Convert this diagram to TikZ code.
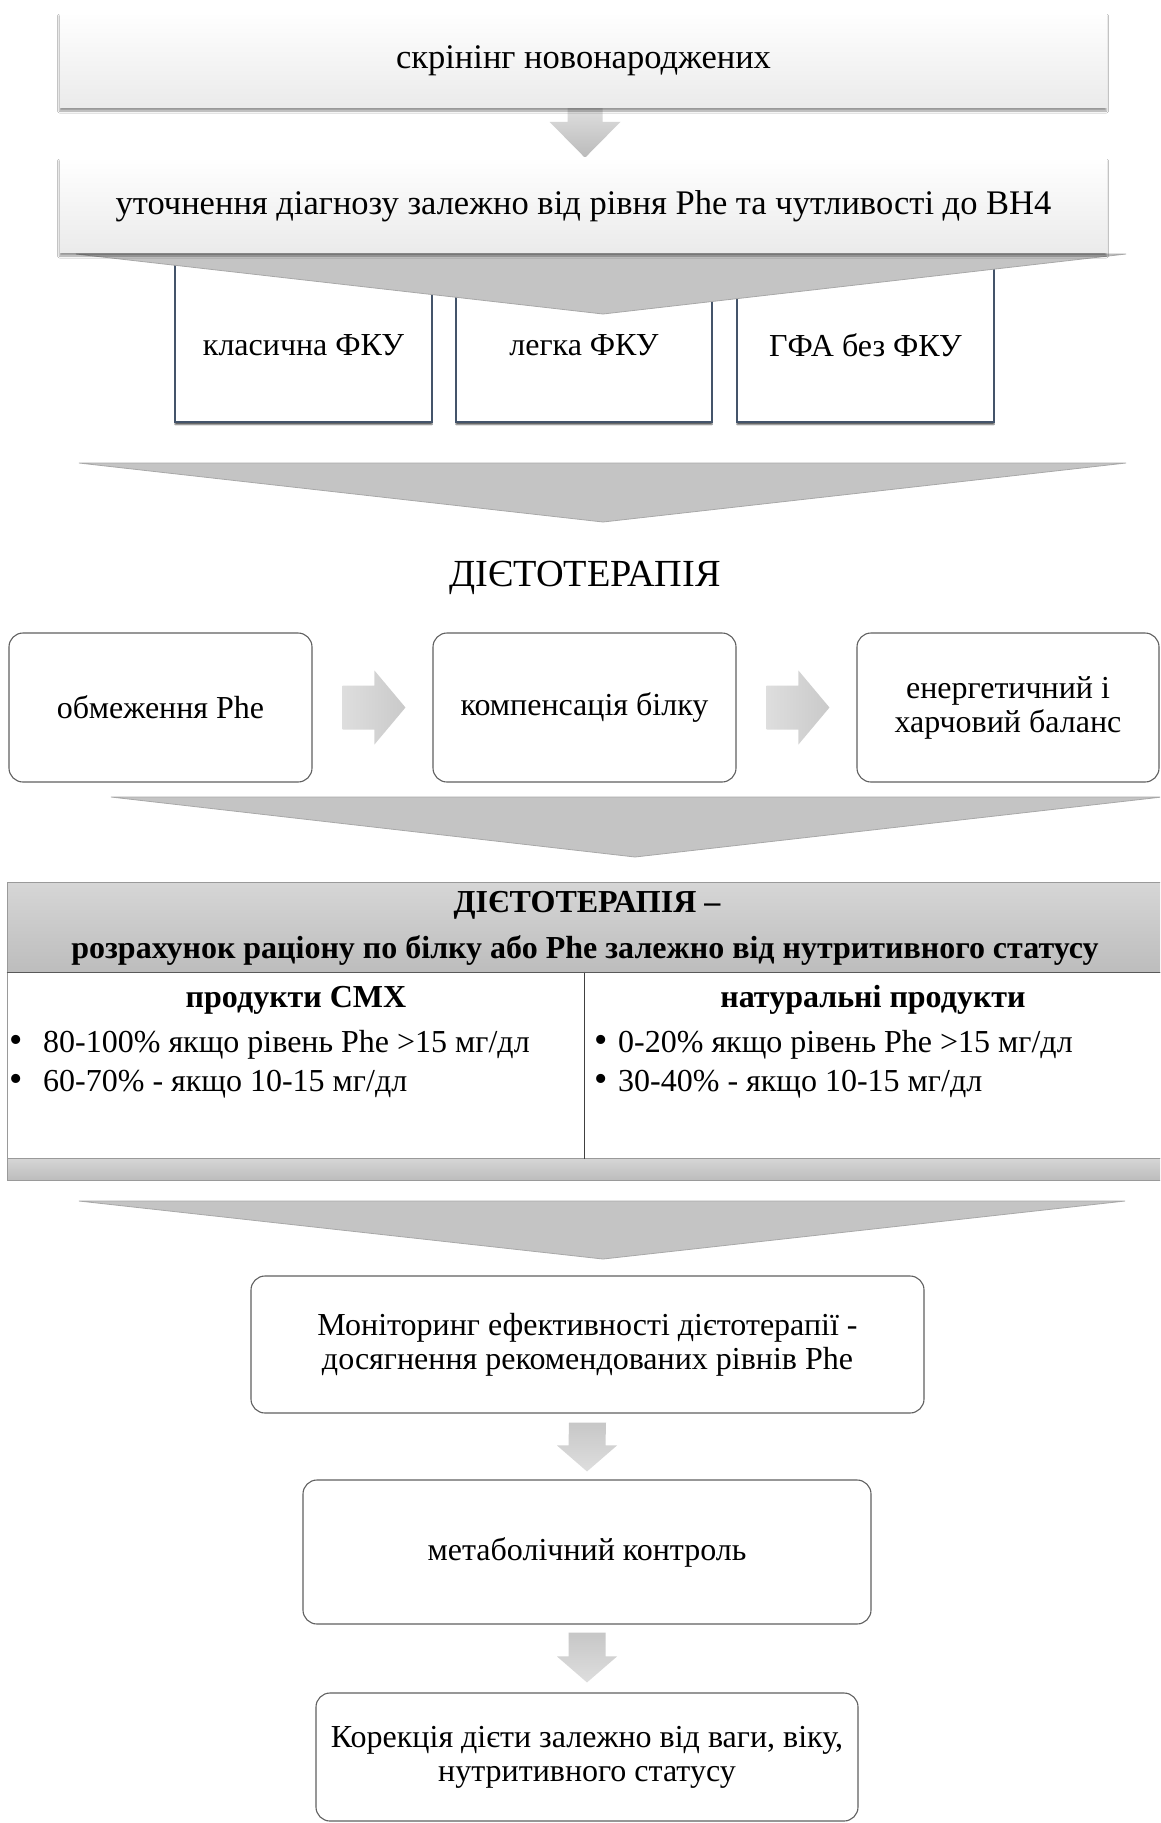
\documentclass[tikz,border=0pt]{standalone}
\usepackage{fontspec}
\setmainfont{Liberation Serif}
\usetikzlibrary{calc,shadows.blur}
\definecolor{dk}{HTML}{44546A}
\definecolor{chev}{HTML}{C4C4C4}
\definecolor{chevl}{HTML}{A8A8A8}
\definecolor{rb}{HTML}{606060}
\definecolor{tline}{HTML}{9A9A9A}
\newcommand\darrow[6]{%
  \path[#6] ($(#1)+(-#3,0)$) -- ($(#1)+(#3,0)$) -- ($(#2)+(#3,-#5)$) -- ($(#2)+(#4,-#5)$) -- (#2)
    -- ($(#2)+(-#4,-#5)$) -- ($(#2)+(-#3,-#5)$) -- cycle;}
\newcommand\rarrow[6]{%
  \path[#6] ($(#1)+(0,-#3)$) -- ($(#2)+(-#5,-#3)$) -- ($(#2)+(-#5,-#4)$) -- (#2)
    -- ($(#2)+(-#5,#4)$) -- ($(#2)+(-#5,#3)$) -- ($(#1)+(0,#3)$) -- cycle;}
\begin{document}
\begin{tikzpicture}[x=1pt,y=-1pt,
  every node/.style={font=\fontsize{32}{34}\selectfont, text=black, inner sep=0pt},
  gbox/.style={rectangle, top color=white, middle color=black!2, bottom color=black!8,
    blur shadow={shadow xshift=-0.5pt, shadow yshift=-4pt, shadow blur radius=2pt, shadow opacity=40}},
  dbox/.style={rectangle, draw=dk, line width=2.5pt, fill=white,
    blur shadow={shadow xshift=0pt, shadow yshift=-2.5pt, shadow blur radius=0.6pt, shadow opacity=60}},
  rbox/.style={rectangle, rounded corners=14pt, draw=rb, line width=1.1pt, fill=white, align=center},
  chevron/.style={fill=chev, draw=chevl, line width=0.8pt},
  bigarr/.style={top color=black!9, bottom color=black!27},
  smarr/.style={top color=black!22, bottom color=black!13},
  rarr/.style={left color=black!13, right color=black!21},
  thd/.style={rectangle, top color=black!16, bottom color=black!26, draw=tline, line width=1pt},
  tcell/.style={rectangle, fill=white, draw=tline, line width=1pt},
  bold/.style={font=\fontsize{32}{34}\selectfont\bfseries},
  topt/.style={font=\fontsize{34.5}{37}\selectfont},
  bl/.style={anchor=west, text height=22pt, text depth=8pt},
  bul/.style={font=\fontsize{38}{34}\selectfont, text height=22pt, text depth=8pt}
]
\clip (0,0) rectangle (1160,1823);
\fill[white] (0,0) rectangle (1160,1823);

% three diagnosis boxes
\node[dbox, minimum width=257pt, minimum height=158pt] (d1) at (303.5,343) {};
\node[dbox, minimum width=256pt, minimum height=158pt] (d2) at (584,343) {};
\node[dbox, minimum width=257pt, minimum height=158pt] (d3) at (865.5,343) {};

% chevron below box 2
\coordinate (c1l) at (76,254); \coordinate (c1r) at (1126,254); \coordinate (c1t) at (603,314);
\path[chevron] (c1l) -- (c1r) -- (c1t) -- cycle;

\node (d1t) at (d1.center) [yshift=-2pt] {класична ФКУ};
\node (d2t) at (d2.center) [yshift=-2pt] {легка ФКУ};
\node (d3t) at (d3.center) [yshift=-2pt] {ГФА без ФКУ};

% top boxes (frames for naming, then arrow, then drawn boxes)
\node[minimum width=1047pt, minimum height=95pt] (b1) at (583.5,59.5) {};
\node[minimum width=1047pt, minimum height=95pt] (b2) at (583.5,204.5) {};
\coordinate (a1t) at ($(b1.south)+(1.5,-12)$);
\coordinate (a1h) at ($(b2.north)+(1.5,1)$);
\darrow{a1t}{a1h}{17.5}{35.5}{36}{bigarr}
\node[gbox, minimum width=1047pt, minimum height=95pt] (b2s) at (b2.center) {};
\node[gbox, minimum width=1047pt, minimum height=95pt] (b1s) at (b1.center) {};
\node[topt] (b1t) at (583.5,61) {скрінінг новонароджених};
\node[topt] (b2t) at (583.5,206) {уточнення діагнозу залежно від рівня Phe та чутливості до BH4};

% chevron 2
\coordinate (c2l) at (79,463); \coordinate (c2r) at (1126,463); \coordinate (c2t) at (603,522);
\path[chevron] (c2l) -- (c2r) -- (c2t) -- cycle;

% heading
\node[font=\fontsize{38.3}{40}\selectfont] (hd) at (585,578) {ДІЄТОТЕРАПІЯ};

% row of rounded boxes
\node[rbox, minimum width=303pt, minimum height=149pt] (r1) at (160.5,707.5) {обмеження Phe};
\node[rbox, minimum width=303pt, minimum height=149pt] (r2) at (584.5,707.5) {компенсація білку};
\node[rbox, minimum width=302pt, minimum height=149pt] (r3) at (1008,707.5) {енергетичний і\\харчовий баланс};
\coordinate (ra1) at ($(r1.east)+(30,0)$); \coordinate (ra1h) at ($(r2.west)+(-27,0)$);
\coordinate (ra2) at ($(r2.east)+(30,0)$); \coordinate (ra2h) at ($(r3.west)+(-27,0)$);
\rarrow{ra1}{ra1h}{22}{37}{31}{rarr}
\rarrow{ra2}{ra2h}{22}{37}{31}{rarr}

% chevron 3
\coordinate (c3l) at (111,797); \coordinate (c3r) at (1162,797); \coordinate (c3t) at (635,857);
\path[chevron] (c3l) -- (c3r) -- (c3t) -- cycle;

% table
\node[thd, minimum width=1156pt, minimum height=90pt] (th) at (585,927) {};
\node[tcell, minimum width=577pt, minimum height=186pt] (tl) at (295.5,1065) {};
\node[tcell, minimum width=579pt, minimum height=186pt] (tr) at (873.5,1065) {};
\node[thd, minimum width=1156pt, minimum height=22pt] (tf) at (585,1169) {};
\draw[black!75, line width=0.9pt] (tl.north east) -- (tl.south east);
\draw[black!65, line width=1.2pt] (th.south west) -- (th.south east);
\node[bold] (th1) at (587,905) {ДІЄТОТЕРАПІЯ –};
\node[bold] (th2) at (585,950) {розрахунок раціону по білку або Phe залежно від нутритивного статусу};
\node[bold] (ch1) at (296,1000) {продукти СМХ};
\node[bold] (ch2) at (873,1000) {натуральні продукти};
\node[bul] (bu1) at (16,1045) {•};
\node[bl] (l1) at (43,1045) {80-100\% якщо рівень Phe >15 мг/дл};
\node[bul] (bu2) at (16,1084) {•};
\node[bl] (l2) at (43,1084) {60-70\%  - якщо 10-15 мг/дл};
\node[bul] (bu3) at (601,1045) {•};
\node[bl] (l3) at (618,1045) {0-20\% якщо рівень Phe >15 мг/дл};
\node[bul] (bu4) at (601,1084) {•};
\node[bl] (l4) at (618,1084) {30-40\%  - якщо 10-15 мг/дл};

% chevron 4
\coordinate (c4l) at (79,1201); \coordinate (c4r) at (1125,1201); \coordinate (c4t) at (603,1259);
\path[chevron] (c4l) -- (c4r) -- (c4t) -- cycle;

% lower boxes
\node[rbox, minimum width=673pt, minimum height=137pt] (mon) at (587.5,1344.5)
  {Моніторинг ефективності дієтотерапії -\\досягнення рекомендованих рівнів Phe};
\node[rbox, minimum width=568pt, minimum height=144pt] (met) at (587,1552) {метаболічний контроль};
\node[rbox, minimum width=542pt, minimum height=128pt] (cor) at (587,1757)
  {Корекція дієти залежно від ваги, віку,\\нутритивного статусу};
\coordinate (m1t) at ($(mon.south)+(0,9)$); \coordinate (m1h) at ($(met.north)+(0,-8)$);
\coordinate (m2t) at ($(met.south)+(0,8)$); \coordinate (m2h) at ($(cor.north)+(0,-10)$);
\darrow{m1t}{m1h}{18.5}{30}{26}{smarr}
\darrow{m2t}{m2h}{18.5}{30}{26}{smarr}
\end{tikzpicture}
\end{document}
